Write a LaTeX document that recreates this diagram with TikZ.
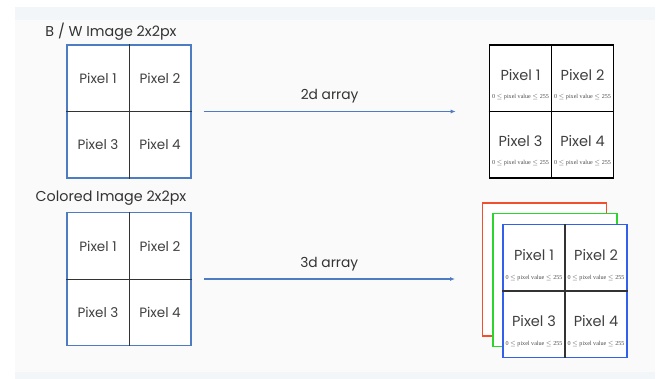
\documentclass[tikz,border=0pt]{standalone}
\usepackage{fontspec}
\setmainfont{Poppins}
\newfontfamily\valfont{Liberation Serif}
\usetikzlibrary{arrows.meta,calc,positioning}

\definecolor{panelgray}{HTML}{FAFAFA}
\definecolor{stripblue}{HTML}{F2F6F8}
\definecolor{gridblue}{HTML}{4D7CC2}
\definecolor{layerred}{HTML}{F2502C}
\definecolor{layergreen}{HTML}{2ED42E}
\definecolor{layerblue}{HTML}{3360EA}

\begin{document}
\begin{tikzpicture}[x=1pt,y=-1pt,
  gridbox/.style={draw=gridblue,line width=1.1pt,fill=white,minimum width=124pt,minimum height=133pt,inner sep=0pt},
  arraybox/.style={gridbox,draw=black,line width=1.6pt},
  layerbox/.style={gridbox,draw=#1,line width=1.4pt},
  pixlabel/.style={font=\fontsize{13.5}{15}\selectfont,text=black!75,inner sep=1pt},
  pixbig/.style={font=\fontsize{14.5}{16}\selectfont,text=black!75,inner sep=1pt},
  pixval/.style={font=\valfont\fontsize{6.1}{7}\selectfont,text=black!70,inner sep=0pt},
  title/.style={font=\fontsize{14.3}{16}\selectfont,text=black!80,inner sep=1pt},
  flow/.style={draw=gridblue,line width=1.5pt,-{Latex[length=5pt,width=4pt]}}]

  % Background panel
  \useasboundingbox (0,0) rectangle (660,379);
  \fill[white] (0,0) rectangle (660,379);
  \fill[stripblue] (15,7) rectangle (655,379);
  \fill[panelgray] (15,20) rectangle (655,372);

  % Black and white image
  \node[title] (bw-title) at (111,32) {B / W Image 2x2px};
  \node[gridbox] (bw) at (129,111.5) {};
  \draw[black!80,line width=0.9pt] (bw.north) -- (bw.south) (bw.west) -- (bw.east);
  \foreach \n/\dx/\dy in {1/-1/-1,2/1/-1,3/-1/1,4/1/1}
    \node[pixlabel] (bw-p\n) at ($(bw.center)+(\dx*31,\dy*33)$) {Pixel \n};

  % 2d array
  \node[arraybox] (bwarr) at (551.5,111.5) {};
  \draw[black,line width=1.1pt] (bwarr.north) -- (bwarr.south) (bwarr.west) -- (bwarr.east);
  \foreach \n/\dx/\dy in {1/-1/-1,2/1/-1,3/-1/1,4/1/1} {
    \node[pixbig] (bwarr-p\n) at ($(bwarr.center)+(\dx*31,\dy*33-3.5)$) {Pixel \n};
    \node[pixval] (bwarr-v\n) at ($(bwarr.center)+(\dx*31,\dy*33+19)$) {0 $\leq$ pixel value $\leq$ 255};
  }

  \coordinate (bw-out) at ($(bw.east)+(12,0)$);
  \coordinate (bwarr-in) at ($(bwarr.west)+(-33,0)$);
  \draw[flow] (bw-out) -- node[above=4pt,font=\fontsize{13.8}{15}\selectfont,text=black!80] (bw-lbl) {2d array} (bwarr-in);

  % Colored image
  \node[title] (rgb-title) at (111,198) {Colored Image 2x2px};
  \node[gridbox] (rgb) at (129,279) {};
  \draw[black!80,line width=0.9pt] (rgb.north) -- (rgb.south) (rgb.west) -- (rgb.east);
  \foreach \n/\dx/\dy in {1/-1/-1,2/1/-1,3/-1/1,4/1/1}
    \node[pixlabel] (rgb-p\n) at ($(rgb.center)+(\dx*31,\dy*33)$) {Pixel \n};

  % 3d array, one layer per channel
  \node[layerbox=layerred] (red) at (544.5,269.5) {};
  \node[layerbox=layergreen] (green) at (555,280) {};
  \node[layerbox=layerblue] (blue) at (565,291) {};
  \draw[black!80,line width=1.1pt] (blue.north) -- (blue.south) (blue.west) -- (blue.east);
  \foreach \n/\dx/\dy in {1/-1/-1,2/1/-1,3/-1/1,4/1/1} {
    \node[pixbig] (blue-p\n) at ($(blue.center)+(\dx*31,\dy*33-3)$) {Pixel \n};
    \node[pixval] (blue-v\n) at ($(blue.center)+(\dx*31,\dy*33+20)$) {0 $\leq$ pixel value $\leq$ 255};
  }

  \coordinate (rgb-out) at ($(rgb.east)+(12,0)$);
  \coordinate (blue-in) at (455,279);
  \draw[flow] (rgb-out) -- node[above=4pt,font=\fontsize{13.8}{15}\selectfont,text=black!80] (rgb-lbl) {3d array} (blue-in);

\end{tikzpicture}
\end{document}
